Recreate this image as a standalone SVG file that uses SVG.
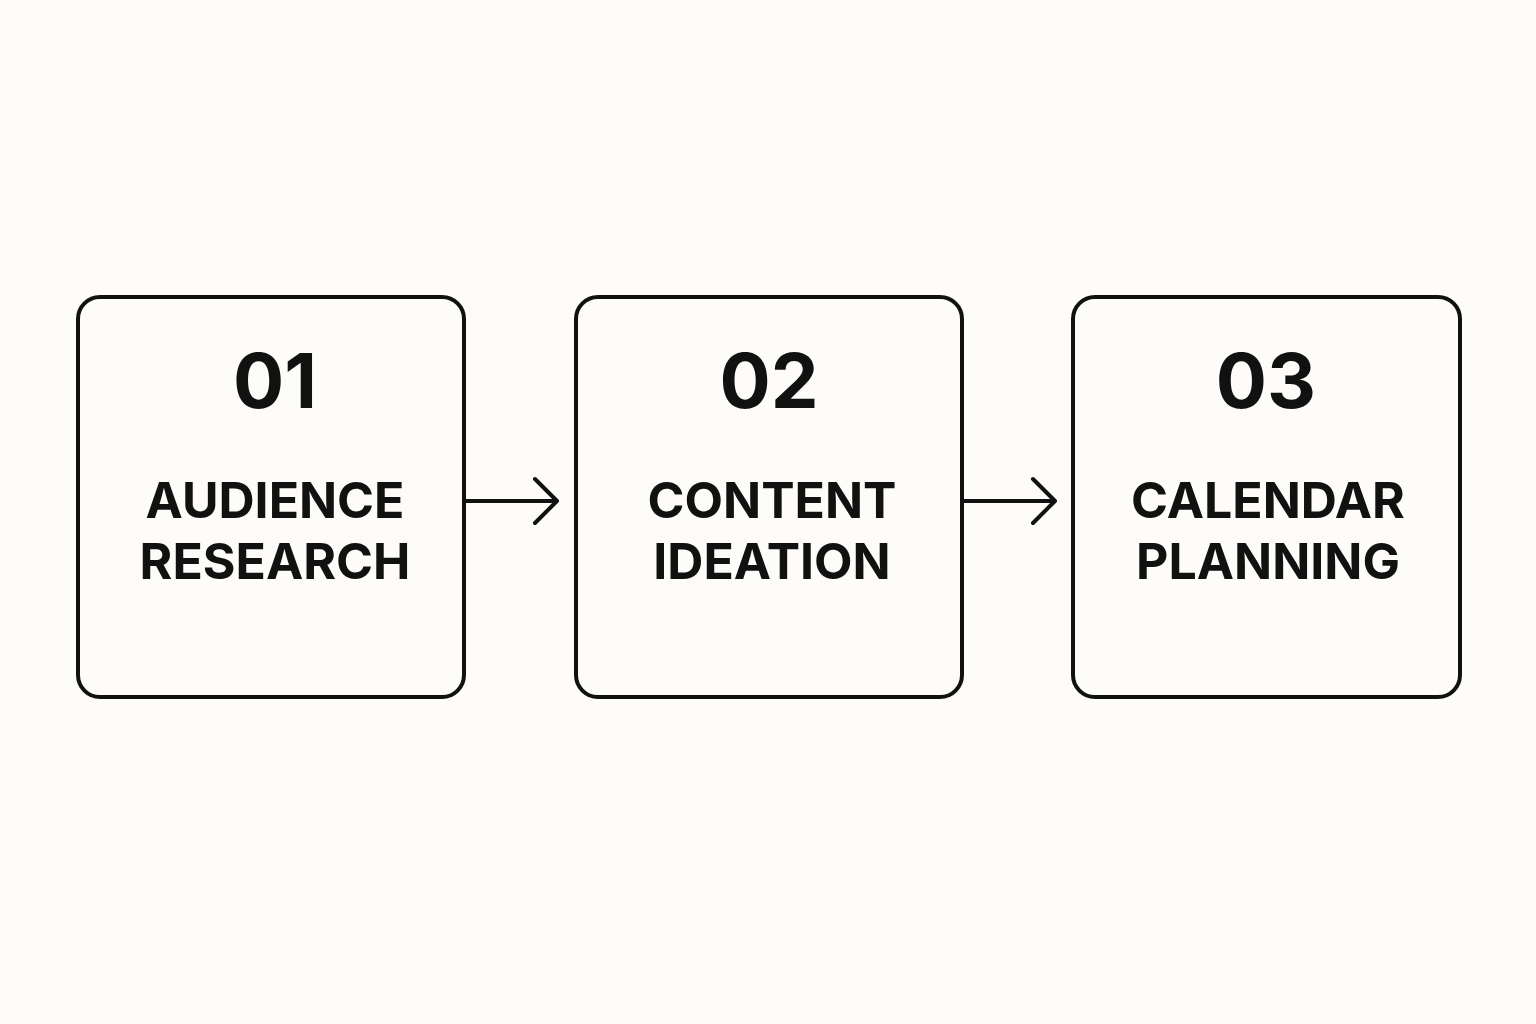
<svg xmlns="http://www.w3.org/2000/svg" width="1536" height="1024" viewBox="0 0 1536 1024">
<style>
.box{fill:none;stroke:#111;stroke-width:4}
.num{font-family:Inter,"Liberation Sans",sans-serif;font-weight:700;font-size:76px;fill:#111;text-anchor:middle}
.lbl{font-family:Inter,"Liberation Sans",sans-serif;font-weight:700;font-size:50px;fill:#111;text-anchor:middle}
.con{fill:none;stroke:#111;stroke-width:4;stroke-linecap:round;stroke-linejoin:round}
</style>
<rect width="1536" height="1024" fill="#fdfcf8"/>
<g id="n1"><rect class="box" x="78" y="297" width="386" height="400" rx="22"/><text class="num" x="275" y="408">01</text><text class="lbl" x="275" y="518">AUDIENCE</text><text class="lbl" x="275" y="579">RESEARCH</text></g>
<g id="n2"><rect class="box" x="576" y="297" width="386" height="400" rx="22"/><text class="num" x="769" y="408">02</text><text class="lbl" x="772" y="518">CONTENT</text><text class="lbl" x="772" y="579">IDEATION</text></g>
<g id="n3"><rect class="box" x="1073" y="297" width="387" height="400" rx="22"/><text class="num" x="1266" y="408">03</text><text class="lbl" x="1268" y="518">CALENDAR</text><text class="lbl" x="1268" y="579">PLANNING</text></g>
<g id="connectors">
<path class="con" d="M466 501H557M535 479L557 501L535 523"/>
<path class="con" d="M964 501H1055M1033 479L1055 501L1033 523"/>
</g>
</svg>
